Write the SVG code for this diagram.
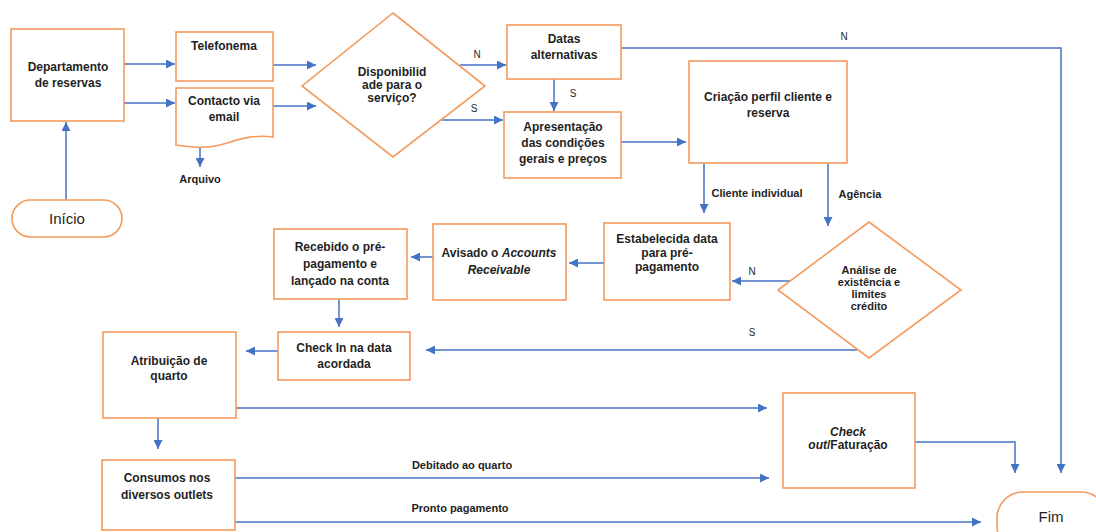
<svg xmlns="http://www.w3.org/2000/svg" width="1096" height="532" viewBox="0 0 1096 532">
<style>
.n{fill:#fff;stroke:#F39A5C;stroke-width:1.6}
.t{font-family:"Liberation Sans",Arial,sans-serif;font-size:12px;font-weight:700;fill:#1f1f1f;text-anchor:middle}
.t2{font-family:"Liberation Sans",Arial,sans-serif;font-size:11px;font-weight:700;fill:#1f1f1f;text-anchor:middle}
.s{font-family:"Liberation Sans",Arial,sans-serif;font-size:11px;font-weight:700;fill:#1f1f1f;text-anchor:middle}
.l{font-family:"Liberation Sans",Arial,sans-serif;font-size:10px;fill:#1f1f1f;text-anchor:middle}
.r{font-family:"Liberation Sans",Arial,sans-serif;font-size:15px;fill:#1f1f1f;text-anchor:middle}
.c{fill:none;stroke:#4472C4;stroke-width:1.5;marker-end:url(#a)}
</style>
<defs>
<marker id="a" viewBox="0 0 10 10" refX="10" refY="5" markerWidth="6" markerHeight="6" markerUnits="strokeWidth" orient="auto">
<path d="M0,0L10,5L0,10z" fill="#4472C4"/>
</marker>
</defs>
<g id="connectors">
<path class="c" d="M66,200V122"/>
<path class="c" d="M124,64H175"/>
<path class="c" d="M124,103H175"/>
<path class="c" d="M273,65H316"/>
<path class="c" d="M273,106H316"/>
<path class="c" d="M200,147V167"/>
<path class="c" d="M460,65H506"/>
<path class="c" d="M442,120H503"/>
<path class="c" d="M554,79V111"/>
<path class="c" d="M621,142H686"/>
<path class="c" d="M621,48H1061V473"/>
<path class="c" d="M704,163V213"/>
<path class="c" d="M828,163V226"/>
<path class="c" d="M791,281H732"/>
<path class="c" d="M604,263H569"/>
<path class="c" d="M433,257H411"/>
<path class="c" d="M339,299V327"/>
<path class="c" d="M857,350H426"/>
<path class="c" d="M278,351H246"/>
<path class="c" d="M236,408H767"/>
<path class="c" d="M158,418V449"/>
<path class="c" d="M235,478H769"/>
<path class="c" d="M235,522H981"/>
<path class="c" d="M915,442H1015V473"/>
<text class="l" x="477" y="58">N</text>
<text class="l" x="474" y="112">S</text>
<text class="l" x="573" y="97">S</text>
<text class="l" x="844" y="40">N</text>
<text class="s" x="757" y="197">Cliente individual</text>
<text class="s" x="860" y="198">Agência</text>
<text class="l" x="752" y="275">N</text>
<text class="l" x="752" y="336">S</text>
<text class="s" x="200" y="183">Arquivo</text>
<text class="s" x="462" y="469">Debitado ao quarto</text>
<text class="s" x="460" y="512">Pronto pagamento</text>
</g>
<g id="inicio">
<rect class="n" x="12" y="200" width="110" height="37" rx="18.5"/>
<text class="r" x="67" y="224">Início</text>
</g>
<g id="departamento">
<rect class="n" x="11" y="29" width="113" height="92"/>
<text class="t" x="68" y="71">Departamento</text>
<text class="t" x="68" y="87">de reservas</text>
</g>
<g id="telefonema">
<rect class="n" x="176" y="32" width="97" height="49"/>
<text class="t" x="224" y="50">Telefonema</text>
</g>
<g id="contacto">
<path class="n" d="M176,88H273V137C250,134 235,141 220,145C205,149 190,147 176,145Z"/>
<text class="t" x="224" y="105">Contacto via</text>
<text class="t" x="224" y="121">email</text>
</g>
<g id="disponibilidade">
<path class="n" d="M393,13L485,86L393,157L302,86Z"/>
<text class="t" x="392" y="76">Disponibilid</text>
<text class="t" x="392" y="89">ade para o</text>
<text class="t" x="392" y="102">serviço?</text>
</g>
<g id="datas">
<rect class="n" x="507" y="25" width="114" height="54"/>
<text class="t" x="564" y="43">Datas</text>
<text class="t" x="564" y="59">alternativas</text>
</g>
<g id="apresentacao">
<rect class="n" x="504" y="112" width="117" height="66"/>
<text class="t" x="563" y="131">Apresentação</text>
<text class="t" x="563" y="147">das condições</text>
<text class="t" x="563" y="163">gerais e preços</text>
</g>
<g id="criacao">
<rect class="n" x="689" y="61" width="158" height="102"/>
<text class="t" x="768" y="101">Criação perfil cliente e</text>
<text class="t" x="768" y="117">reserva</text>
</g>
<g id="estabelecida">
<rect class="n" x="604" y="223" width="126" height="77"/>
<text class="t" x="667" y="243">Estabelecida data</text>
<text class="t" x="667" y="257">para pré-</text>
<text class="t" x="667" y="271">pagamento</text>
</g>
<g id="analise">
<path class="n" d="M869,222L961,290L869,358L778,290Z"/>
<text class="t2" x="869" y="274">Análise de</text>
<text class="t2" x="869" y="286">existência e</text>
<text class="t2" x="869" y="298">limites</text>
<text class="t2" x="869" y="310">crédito</text>
</g>
<g id="avisado">
<rect class="n" x="433" y="224" width="133" height="76"/>
<text class="t" x="499" y="257">Avisado o <tspan font-style="italic">Accounts</tspan></text>
<text class="t" x="499" y="274" font-style="italic">Receivable</text>
</g>
<g id="recebido">
<rect class="n" x="274" y="229" width="133" height="70"/>
<text class="t" x="340" y="251">Recebido o pré-</text>
<text class="t" x="340" y="268">pagamento e</text>
<text class="t" x="340" y="285">lançado na conta</text>
</g>
<g id="checkin">
<rect class="n" x="278" y="332" width="132" height="48"/>
<text class="t" x="344" y="352">Check In na data</text>
<text class="t" x="344" y="368">acordada</text>
</g>
<g id="atribuicao">
<rect class="n" x="103" y="332" width="133" height="86"/>
<text class="t" x="169" y="365">Atribuição de</text>
<text class="t" x="169" y="380">quarto</text>
</g>
<g id="consumos">
<rect class="n" x="102" y="460" width="133" height="70"/>
<text class="t" x="167" y="482">Consumos nos</text>
<text class="t" x="167" y="499">diversos outlets</text>
</g>
<g id="checkout">
<rect class="n" x="783" y="393" width="132" height="95"/>
<text class="t" x="848" y="436" font-style="italic">Check</text>
<text class="t" x="848" y="449"><tspan font-style="italic">out</tspan>/Faturação</text>
</g>
<g id="fim">
<rect class="n" x="997" y="492" width="110" height="60" rx="26"/>
<text class="r" x="1051" y="522">Fim</text>
</g>
</svg>
